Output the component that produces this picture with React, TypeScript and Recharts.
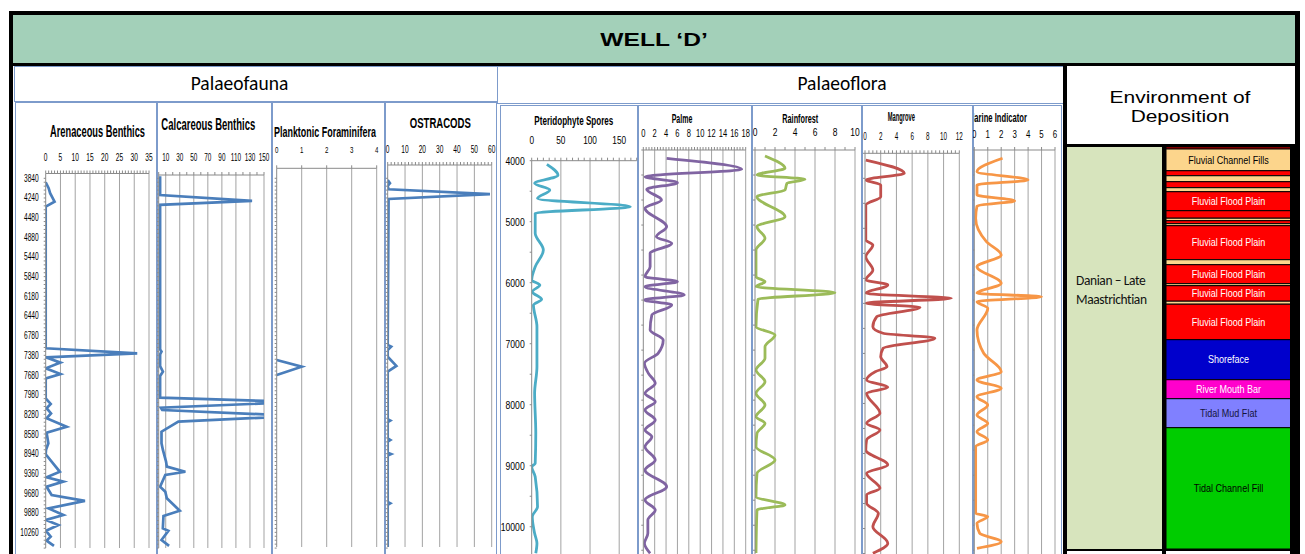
import React from 'react';
import { LineChart, Line, XAxis, YAxis, ReferenceLine, BarChart, Bar, LabelList } from 'recharts';

const ARIAL = "'Liberation Sans', Arial, sans-serif";
const CALIBRI = "Carlito, Lato, 'Open Sans', sans-serif";

// ---------- Palaeofauna (sample position in depth-label steps, count) ----------
const faunaDepthLabels = ['3840', '4240', '4480', '4880', '5440', '5840', '6180', '6440', '6780', '7380', '7680', '7980', '8280', '8580', '8940', '9360', '9680', '9880', '10260'];

const arenPos = [0.2, 0.5, 0.76, 1.19, 1.44, 8.64, 8.9, 9.1, 9.37, 9.66, 9.95, 10.17, 11.19, 11.47, 11.69, 11.95, 12.2, 12.63, 12.93, 13.47, 13.8, 14.03, 14.92, 15.2, 15.42, 15.68, 16.1, 16.4, 16.78, 17.12, 17.37, 17.63, 17.92, 18.22, 18.42, 18.69];
const arenVal = [0, 1, 1.5, 3, 0, 0, 31, 0, 5, 0, 5, 0, 0, 1.7, 0.3, 1.8, 0.3, 7.1, 0.3, 0.9, 0.1, 0, 4.8, 0.3, 6, 0.3, 2, 13.3, 0.9, 6, 0.1, 4.3, 0.1, 1.7, 0.3, 2.8];

const calcPos = [-0.1, 0.85, 1.15, 1.35, 8.7, 8.81, 8.95, 9.55, 9.83, 10.05, 11.15, 11.37, 11.66, 11.78, 12.08, 12.37, 12.88, 13.47, 13.81, 14.41, 14.66, 14.92, 15.08, 15.68, 15.93, 16.27, 16.9, 17.17, 17.8, 17.92, 18.39, 18.69];
const calcVal = [2, 2, 133, 2, 2, 4, 2, 2, 6, 2, 2, 200, 3, 5, 200, 28, 4, 4, 6, 10.5, 11.6, 38, 9.4, 2, 9.4, 11.6, 30, 6.8, 5.9, 13.8, 4, 14.8];

const plankPos = [9.24, 9.58, 10.0];
const plankVal = [0, 1, 0];

const ostrPos = [0.09, 0.25, 0.39, 0.56, 0.8, 1.05, 8.47, 8.56, 8.73, 9.07, 9.54, 9.83, 12.25, 12.32, 12.4, 13.22, 13.3, 13.38, 13.95, 14.02, 14.1, 16.45, 16.52, 16.6, 18.75];
const ostrVal = [0, 1.3, 0, 0.5, 59, 0.5, 0, 2, 0, 0, 5, 0, 0, 1.5, 0, 0, 1.5, 0, 0, 2, 0, 0, 1.5, 0, 0];

// ---------- Palaeoflora (depth ft, count) ----------
const pterDepth = [4060, 4240, 4370, 4480, 4620, 4754, 4862, 4972, 5190, 5464, 5738, 5956, 6038, 6148, 6272, 6366, 6721, 7377, 7813, 8469, 8961, 9016, 9180, 9672, 9836, 10108, 10272, 10436];
const pterVal = [26, 45, 5, 31, 10, 169, 6, 6, 6, 20, 6, 0, 14, 1, 17, 3, 9, 9, 5, 7, 6, 0, 6, 10, 1, 5, 9, 7];

const palmeDepth = [3961, 4141, 4262, 4360, 4469, 4644, 4780, 5082, 5246, 5355, 5518, 5738, 5902, 5983, 6065, 6201, 6283, 6365, 6529, 6775, 6939, 7157, 7321, 7485, 7649, 7813, 7950, 8086, 8250, 8414, 8523, 8688, 8906, 9070, 9343, 9561, 9725, 9889, 10107, 10271, 10435];
const palmeVal = [4.1, 17.3, 0.3, 6.0, 0.6, 3.2, 0.3, 4.1, 2.3, 5.0, 1.2, 1.2, 0.3, 6.0, 0.3, 7.2, 0.2, 5.0, 1.5, 1.2, 3.5, 2.6, 0.2, 0.9, 2.1, 0.3, 2.1, 0.3, 2.1, 0.3, 1.5, 0.3, 2.1, 0.3, 4.1, 0.3, 2.1, 0.8, 0.8, 0.2, 1.2];

const rainDepth = [3923, 4125, 4234, 4305, 4370, 4480, 4590, 4918, 5082, 5272, 5464, 5901, 5983, 6065, 6164, 6272, 6721, 6857, 7049, 7239, 7431, 7622, 7813, 8004, 8196, 8304, 8468, 8688, 8906, 9124, 9507, 9643, 9725, 10430];
const rainVal = [1.0, 3.0, 0.2, 5.0, 3.2, 3.0, 0.2, 3.0, 0.2, 1.0, 0.1, 0.1, 1.0, 0.1, 8.0, 0.3, 0.1, 2.0, 1.0, 1.0, 0.1, 1.0, 0.1, 1.0, 0.1, 1.0, 0.2, 0.1, 2.0, 0.2, 0.1, 3.0, 0.2, 0.1];

const mangDepth = [3989, 4207, 4316, 4398, 4590, 4726, 5300, 5382, 5573, 5791, 5955, 6037, 6174, 6255, 6337, 6403, 6557, 6721, 6829, 6911, 7075, 7213, 7377, 7459, 7595, 7715, 7813, 8141, 8304, 8414, 8578, 8742, 8988, 9124, 9370, 9480, 9616, 9780, 9999, 10271, 10435];
const mangVal = [0.1, 5.0, 0.1, 2.0, 2.0, 0.1, 0.1, 1.0, 0.1, 1.0, 0.1, 2.9, 0.1, 11.0, 0.1, 7.0, 1.5, 1.0, 2.3, 8.9, 2.3, 2.0, 2.8, 1.3, 0.2, 2.9, 0.2, 1.9, 0.2, 1.9, 0.2, 0.1, 2.9, 0.2, 1.9, 0.2, 0.2, 1.7, 1.0, 2.9, 1.0];

const marDepth = [3961, 4180, 4316, 4398, 4562, 4660, 4742, 4944, 5327, 5545, 5738, 6010, 6174, 6229, 6311, 6420, 6775, 7157, 7458, 7595, 7731, 7868, 8005, 8169, 8304, 8441, 8578, 8688, 9779, 9834, 9943, 10107, 10244, 10353];
const marVal = [2.1, 0.2, 4.0, 0.2, 0.2, 3.0, 0.2, 0.1, 0.9, 2.0, 0.2, 2.0, 0.2, 5.0, 0.2, 1.0, 0.2, 0.7, 2.0, 0.2, 2.0, 0.2, 1.0, 0.2, 1.0, 0.2, 1.0, 0.1, 0.1, 1.0, 0.2, 0.4, 2.0, 0.2];

const floraDepthLabels = [4000, 5000, 6000, 7000, 8000, 9000, 10000];

// ---------- Environment of deposition (interval thickness, ft) ----------
const envThick = [33, 356, 82, 98, 98, 66, 311, 123, 41, 49, 33, 557, 82, 311, 33, 254, 49, 582, 656, 311, 475, 1988];
const envLabels = ['', 'Fluvial Channel Fills', '', '', '', '', 'Fluvial Flood Plain', '', '', '', '', 'Fluvial Flood Plain', '', 'Fluvial Flood Plain', '', 'Fluvial Flood Plain', '', 'Fluvial Flood Plain', 'Shoreface', 'River Mouth Bar', 'Tidal Mud Flat', 'Tidal Channel Fill'];
const RED = '#ff0000';
const PEACH = '#fcd58c';
const envColors = [RED, PEACH, RED, PEACH, RED, PEACH, RED, RED, PEACH, RED, PEACH, RED, PEACH, RED, PEACH, RED, PEACH, RED, '#0000cc', '#ff00cc', '#8080ff', '#00cc00'];
const envTextColors = ['#fff', '#000', '#fff', '#fff', '#fff', '#fff', '#fff', '#fff', '#fff', '#fff', '#fff', '#fff', '#fff', '#fff', '#fff', '#fff', '#fff', '#fff', '#fff', '#fff', '#14143c', '#000'];

// ---------- helpers ----------
const zip = (d: number[], v: number[]) => d.map((x, i) => ({ d: x, v: v[i] }));
const steps = (a: number, b: number, s: number) => {
  const out: number[] = [];
  for (let i = 0; a + i * s <= b + 1e-9; i++) out.push(Math.round((a + i * s) * 1000) / 1000);
  return out;
};
const near = (a: number, b: number) => Math.abs(a - b) < 1e-6;

let measureCtx: CanvasRenderingContext2D | null = null;
function textWidth(text: string, size: number, bold: boolean) {
  if (!measureCtx) measureCtx = document.createElement('canvas').getContext('2d');
  if (!measureCtx) return text.length * size * 0.6;
  measureCtx.font = `${bold ? 'bold ' : ''}${size}px ${ARIAL}`;
  return measureCtx.measureText(text).width || text.length * size * 0.6;
}

// text squeezed/stretched horizontally to a target width, via transform
function FitText(p: { x: number; y: number; text: string; size: number; len: number; bold?: boolean; anchor?: 'start' | 'middle'; fill?: string }) {
  const s = p.len / textWidth(p.text, p.size, !!p.bold);
  return (
    <text
      transform={`translate(${p.x},${p.y}) scale(${s.toFixed(4)},1)`}
      textAnchor={p.anchor ?? 'middle'}
      dominantBaseline="central"
      fontSize={p.size}
      fontWeight={p.bold ? 700 : 400}
      fontFamily={ARIAL}
      fill={p.fill ?? '#000'}
    >
      {p.text}
    </text>
  );
}

function tickRenderer(fs: number, sx: number, fmt: (v: number) => string, side: 'top' | 'left') {
  return (props: any) => {
    const { x, y, payload } = props;
    const label = fmt(payload.value);
    return (
      <text
        transform={`translate(${x},${y}) scale(${sx},1)`}
        textAnchor={side === 'top' ? 'middle' : 'end'}
        dy={side === 'top' ? 0 : '0.35em'}
        fontSize={fs}
        fontFamily={ARIAL}
        fill="#000"
      >
        {label}
      </text>
    );
  };
}

type Cfg = {
  box: [number, number, number];
  plot: [number, number, number, number];
  title: string;
  titleX: number;
  titleY: number;
  titleSize: number;
  titleLen: number;
  titleLeft?: boolean;
  data: { d: number; v: number }[];
  xDomain: [number, number];
  xMajor: number[];
  xMinor: number[];
  xFont: number;
  xScale: number;
  xBase: number;
  yDomain: [number, number];
  yTicks: number[];
  yLabel: (v: number) => string;
  yFont: number;
  yScale: number;
  yGap: number;
  color: string;
  curve: 'linear' | 'monotone';
  sw: number;
};

const BOTTOM = 560;
const PANEL_BORDER = '#7d9bcb';
const GRID = '#a3a3a3';
const AXIS = '#8a8a8a';

function Panel({ c }: { c: Cfg }) {
  const [bl, bt, br] = c.box;
  const [px0, py0, px1, py1] = c.plot;
  const W = br - bl;
  const H = BOTTOM - bt;
  const xTicks = Array.from(new Set([...c.xMinor, ...c.xMajor])).sort((a, b) => a - b);
  const xFmt = (v: number) => (c.xMajor.some((m) => near(m, v)) ? String(v) : '');
  return (
    <>
      <div
        style={{
          position: 'absolute',
          left: bl,
          top: bt,
          width: W,
          height: H,
          border: `1px solid ${PANEL_BORDER}`,
          boxSizing: 'border-box',
          background: '#fff',
          overflow: 'hidden',
        }}
      >
        <svg width={W} height={60} style={{ position: 'absolute', left: -1, top: -1 }}>
          <FitText
            x={c.titleX - bl}
            y={c.titleY - bt}
            text={c.title}
            size={c.titleSize}
            len={c.titleLen}
            bold
            anchor={c.titleLeft ? 'start' : 'middle'}
          />
        </svg>
      </div>
      <div style={{ position: 'absolute', left: bl, top: bt, width: W, height: H }}>
        <LineChart
          width={W}
          height={H}
          data={c.data}
          layout="vertical"
          margin={{ top: 0, right: br - px1, bottom: BOTTOM - py1, left: 0 }}
        >
          <XAxis
            type="number"
            orientation="top"
            dataKey="v"
            domain={c.xDomain}
            allowDataOverflow
            ticks={xTicks}
            interval={0}
            height={py0 - bt}
            tickSize={3}
            tickMargin={py0 - 3 - c.xBase}
            tick={tickRenderer(c.xFont, c.xScale, xFmt, 'top')}
            stroke={AXIS}
          />
          <YAxis
            type="number"
            dataKey="d"
            domain={c.yDomain}
            allowDataOverflow
            ticks={c.yTicks}
            interval={0}
            width={px0 - bl}
            tickSize={2}
            tickMargin={c.yGap}
            tick={tickRenderer(c.yFont, c.yScale, c.yLabel, 'left')}
            stroke={AXIS}
          />
          {c.xMajor
            .filter((m) => m > c.xDomain[0])
            .map((m) => (
              <ReferenceLine key={m} x={m} stroke={GRID} strokeWidth={1} />
            ))}
          <Line
            dataKey="v"
            type={c.curve}
            stroke={c.color}
            strokeWidth={c.sw}
            dot={false}
            activeDot={false}
            isAnimationActive={false}
          />
        </LineChart>
      </div>
    </>
  );
}

const faunaMinor = steps(0, 18.8, 0.2);
const faunaLabel = (v: number) => (near(v, Math.round(v)) ? faunaDepthLabels[Math.round(v)] ?? '' : '');
const noLabel = () => '';
const FAUNA_BLUE = '#4a7ebb';

const floraYTicks = steps(4000, 10500, 500);
const floraLabel = (v: number) => (floraDepthLabels.includes(v) ? String(v) : '');

const panels: Cfg[] = [
  {
    box: [15, 102, 157],
    plot: [45.7, 173.5, 149, 548],
    title: 'Arenaceous Benthics', titleX: 97.5, titleY: 131, titleSize: 16, titleLen: 95,
    data: zip(arenPos, arenVal),
    xDomain: [0, 35], xMajor: steps(0, 35, 5), xMinor: steps(0, 35, 1), xFont: 10, xScale: 0.66, xBase: 160.6,
    yDomain: [-0.244, 18.795], yTicks: faunaMinor, yLabel: faunaLabel, yFont: 10, yScale: 0.66, yGap: 5,
    color: FAUNA_BLUE, curve: 'linear', sw: 2.7,
  },
  {
    box: [157, 102, 272],
    plot: [158.7, 175, 264, 548],
    title: 'Calcareous Benthics', titleX: 208.3, titleY: 124.3, titleSize: 16, titleLen: 94,
    data: zip(calcPos, calcVal),
    xDomain: [0, 150], xMajor: steps(10, 150, 20), xMinor: steps(0, 150, 10), xFont: 10, xScale: 0.64, xBase: 160.6,
    yDomain: [-0.168, 18.795], yTicks: faunaMinor, yLabel: noLabel, yFont: 9, yScale: 0.7, yGap: 2,
    color: FAUNA_BLUE, curve: 'linear', sw: 2.7,
  },
  {
    box: [272, 102, 385],
    plot: [276.7, 168.3, 376.7, 547],
    title: 'Planktonic Foraminifera', titleX: 274, titleY: 131.7, titleSize: 15, titleLen: 102, titleLeft: true,
    data: zip(plankPos, plankVal),
    xDomain: [0, 4], xMajor: steps(0, 4, 1), xMinor: [], xFont: 9, xScale: 0.68, xBase: 152.5,
    yDomain: [-0.508, 18.745], yTicks: faunaMinor, yLabel: noLabel, yFont: 9, yScale: 0.7, yGap: 2,
    color: FAUNA_BLUE, curve: 'linear', sw: 2.7,
  },
  {
    box: [385, 102, 497],
    plot: [387.7, 165, 491.7, 547],
    title: 'OSTRACODS', titleX: 440.3, titleY: 122.7, titleSize: 15.5, titleLen: 61,
    data: zip(ostrPos, ostrVal),
    xDomain: [0, 60], xMajor: steps(0, 60, 10), xMinor: steps(0, 60, 2), xFont: 10, xScale: 0.66, xBase: 153.1,
    yDomain: [-0.676, 18.745], yTicks: faunaMinor, yLabel: noLabel, yFont: 9, yScale: 0.7, yGap: 2,
    color: FAUNA_BLUE, curve: 'linear', sw: 2.7,
  },
  {
    box: [500, 105, 638],
    plot: [531.7, 160.7, 636.7, 560],
    title: 'Pteridophyte Spores', titleX: 573.8, titleY: 120, titleSize: 13, titleLen: 79,
    data: zip(pterDepth, pterVal),
    xDomain: [0, 180], xMajor: [0, 50, 100, 150], xMinor: steps(0, 180, 10), xFont: 11.5, xScale: 0.72, xBase: 144.1,
    yDomain: [4000, 10545], yTicks: floraYTicks, yLabel: floraLabel, yFont: 11.5, yScale: 0.75, yGap: 5,
    color: '#4bacc6', curve: 'monotone', sw: 2.8,
  },
  {
    box: [638, 105, 752],
    plot: [643.3, 150, 745.7, 560],
    title: 'Palme', titleX: 682, titleY: 118.3, titleSize: 12, titleLen: 20.6,
    data: zip(palmeDepth, palmeVal),
    xDomain: [0, 18], xMajor: steps(0, 18, 2), xMinor: steps(0, 18, 0.5), xFont: 10.5, xScale: 0.72, xBase: 136.8,
    yDomain: [3825, 10545], yTicks: steps(3825, 10545, 410), yLabel: noLabel, yFont: 9, yScale: 0.7, yGap: 2,
    color: '#8064a2', curve: 'monotone', sw: 2.8,
  },
  {
    box: [752, 105, 862],
    plot: [755, 150, 855, 560],
    title: 'Rainforest', titleX: 800.3, titleY: 118.3, titleSize: 12, titleLen: 36,
    data: zip(rainDepth, rainVal),
    xDomain: [0, 10], xMajor: steps(0, 10, 2), xMinor: steps(0, 10, 1), xFont: 11, xScale: 0.77, xBase: 136,
    yDomain: [3825, 10545], yTicks: steps(3825, 10545, 410), yLabel: noLabel, yFont: 9, yScale: 0.7, yGap: 2,
    color: '#9bbb59', curve: 'monotone', sw: 2.8,
  },
  {
    box: [862, 105, 973],
    plot: [865, 153.3, 959.3, 560],
    title: 'Mangrove', titleX: 901.3, titleY: 116.7, titleSize: 12, titleLen: 27.3,
    data: zip(mangDepth, mangVal),
    xDomain: [0, 12], xMajor: steps(0, 12, 2), xMinor: steps(0, 12, 0.5), xFont: 10, xScale: 0.63, xBase: 139.6,
    yDomain: [3879, 10545], yTicks: steps(3879, 10545, 410), yLabel: noLabel, yFont: 9, yScale: 0.7, yGap: 2,
    color: '#c0504d', curve: 'monotone', sw: 2.8,
  },
  {
    box: [973, 105, 1062],
    plot: [974.3, 150, 1055, 560],
    title: 'Marine Indicator', titleX: 968, titleY: 118.3, titleSize: 12, titleLen: 59, titleLeft: true,
    data: zip(marDepth, marVal),
    xDomain: [0, 6], xMajor: steps(0, 6, 1), xMinor: [], xFont: 11, xScale: 0.72, xBase: 138,
    yDomain: [3825, 10545], yTicks: steps(3825, 10545, 410), yLabel: noLabel, yFont: 9, yScale: 0.7, yGap: 2,
    color: '#f79646', curve: 'monotone', sw: 2.8,
  },
];

function EnvColumn() {
  const row: Record<string, string | number> = { name: 'EOD' };
  envThick.forEach((t, i) => {
    row['s' + i] = t;
    row['l' + i] = envLabels[i];
  });
  const total = envThick.reduce((a, b) => a + b, 0);
  return (
    <BarChart width={125} height={402} data={[row]} margin={{ top: 0, right: 0, bottom: 0, left: 0 }} barCategoryGap={0}>
      <XAxis type="category" dataKey="name" hide />
      <YAxis type="number" domain={[0, total]} reversed hide />
      {envThick.map((t, i) => (
        <Bar key={i} dataKey={'s' + i} stackId="env" fill={envColors[i]} stroke="#000" strokeWidth={1} isAnimationActive={false}>
          {envLabels[i] ? (
            <LabelList
              dataKey={'l' + i}
              content={(p: any) => {
                const vb = p.viewBox ?? p;
                const cx = Number(vb.x) + Number(vb.width) / 2;
                const cy = Number(vb.y) + Number(vb.height) / 2;
                return (
                  <text
                    transform={`translate(${cx},${cy}) scale(0.86,1)`}
                    textAnchor="middle"
                    dy="0.35em"
                    fontSize={10.5}
                    fontFamily={ARIAL}
                    fill={envTextColors[i]}
                  >
                    {p.value}
                  </text>
                );
              }}
            />
          ) : null}
        </Bar>
      ))}
    </BarChart>
  );
}

const abs = (l: number, t: number, w: number, h: number, extra: React.CSSProperties = {}): React.CSSProperties => ({
  position: 'absolute',
  left: l,
  top: t,
  width: w,
  height: h,
  boxSizing: 'border-box',
  ...extra,
});

export default function App() {
  return (
    <div style={{ position: 'fixed', left: 0, top: 0, width: 1305, height: 554, overflow: 'hidden', background: '#fff' }}>
      {/* title band */}
      <div style={abs(13, 15, 1283, 48, { background: '#a3d0b9' })} />
      {/* section headers */}
      <div style={abs(14, 66, 484, 36, { border: `1px solid ${PANEL_BORDER}`, background: '#fff' })} />
      <div style={abs(497, 66, 567, 38, { border: `1px solid ${PANEL_BORDER}`, background: '#fff' })} />
      <div style={abs(139.5, 66, 200, 36, { fontFamily: CALIBRI, fontSize: 19.5, lineHeight: '35px', textAlign: 'center', color: '#000' })}>
        Palaeofauna
      </div>
      <div style={abs(742, 66, 200, 36, { fontFamily: CALIBRI, fontSize: 19.5, lineHeight: '35px', textAlign: 'center', color: '#000' })}>
        Palaeoflora
      </div>

      {panels.map((c, i) => (
        <Panel key={i} c={c} />
      ))}

      {/* environment of deposition header */}
      <div style={abs(1064, 63, 233, 84, { background: '#fff' })} />
      <div style={abs(1067, 147, 95, 402, { background: '#d7e4bd' })} />
      <div style={abs(1076, 271, 90, 40, { fontFamily: CALIBRI, fontSize: 13.5, lineHeight: '19px', color: '#111', letterSpacing: -0.4 })}>
        Danian – Late
        <br />
        Maastrichtian
      </div>
      <div style={abs(1166, 147.3, 125, 402)}>
        <EnvColumn />
      </div>

      <svg width={1305} height={150} style={{ position: 'absolute', left: 0, top: 0, pointerEvents: 'none' }}>
        <FitText x={654} y={39.3} text="WELL ‘D’" size={19} len={108} bold />
        <FitText x={1180} y={97.3} text="Environment of" size={16} len={141} />
        <FitText x={1180} y={116.7} text="Deposition" size={16} len={98.7} />
      </svg>

      {/* black frame lines */}
      <div style={abs(9, 11, 1291, 4, { background: '#000' })} />
      <div style={abs(9, 11, 4, 543, { background: '#000' })} />
      <div style={abs(1295, 11, 5, 543, { background: '#000' })} />
      <div style={abs(13, 63, 1283, 3, { background: '#000' })} />
      <div style={abs(1063, 63, 4, 491, { background: '#000' })} />
      <div style={abs(1063, 144, 233, 3, { background: '#000' })} />
      <div style={abs(1162, 147, 4, 407, { background: '#000' })} />
      <div style={abs(1290, 147, 6, 407, { background: '#000' })} />
      <div style={abs(1067, 549, 228, 2, { background: '#000' })} />
    </div>
  );
}
